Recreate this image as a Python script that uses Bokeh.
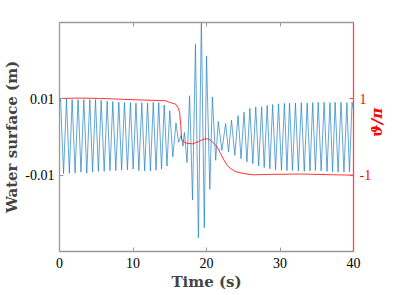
from math import pi
from bokeh.plotting import figure
from bokeh.models import LinearAxis, Range1d, FixedTicker
from bokeh.embed import file_html
from bokeh.resources import INLINE

# ---- data ----
x_ticks = [0, 10, 20, 30, 40]
left_ticks = [-0.01, 0.01]
left_tick_labels = ["-0.01", "0.01"]
right_ticks = [-1, 1]
right_tick_labels = ["-1", "1"]

# water surface: local maxima (time s, value m)
peak_t = [0.14, 0.95, 1.72, 2.53, 3.31, 4.12, 4.90, 5.67, 6.49, 7.25, 8.07, 8.84, 9.65,
          10.40, 11.20, 11.98, 12.76, 13.50, 14.25, 15.00, 15.85, 16.55, 17.00, 17.70,
          18.50, 19.30, 20.00, 20.80, 21.60, 22.60, 23.40, 24.30, 25.10, 25.90, 26.70,
          27.50, 28.26, 29.00, 29.80, 30.60, 31.30, 32.10, 32.90, 33.70, 34.45, 35.20,
          36.00, 36.80, 37.50, 38.30, 39.10, 39.80]
peak_v = [0.0100, 0.0100, 0.0098, 0.0098, 0.0098, 0.0098, 0.0098, 0.0096, 0.0094, 0.0093,
          0.0091, 0.0090, 0.0090, 0.0089, 0.0090, 0.0089, 0.0091, 0.0090, 0.0084, 0.0069,
          0.0037, 0.0004, 0.0012, 0.0108, 0.0243, 0.0310, 0.0212, 0.0105, 0.0041, 0.0035,
          0.0044, 0.0056, 0.0065, 0.0075, 0.0079, 0.0079, 0.0083, 0.0085, 0.0087, 0.0088,
          0.0089, 0.0089, 0.0090, 0.0089, 0.0090, 0.0091, 0.0091, 0.0090, 0.0091, 0.0091,
          0.0090, 0.0091]
# water surface: local minima
trough_t = [0.55, 1.34, 2.12, 2.92, 3.71, 4.50, 5.29, 6.08, 6.87, 7.66, 8.45, 9.24, 10.02,
            10.80, 11.59, 12.37, 13.13, 13.88, 14.62, 15.42, 16.20, 16.80, 17.35, 18.10,
            18.90, 19.70, 20.45, 21.25, 22.10, 23.00, 23.85, 24.70, 25.50, 26.30, 27.10,
            27.85, 28.62, 29.40, 30.20, 30.95, 31.70, 32.50, 33.30, 34.08, 34.82, 35.60,
            36.40, 37.15, 37.90, 38.70, 39.45]
trough_v = [-0.0096, -0.0095, -0.0094, -0.0092, -0.0095, -0.0092, -0.0090, -0.0090, -0.0088,
            -0.0088, -0.0086, -0.0086, -0.0084, -0.0088, -0.0089, -0.0089, -0.0087, -0.0084,
            -0.0076, -0.0052, -0.0014, -0.0024, -0.0067, -0.0165, -0.0264, -0.0238, -0.0137,
            -0.0061, -0.0035, -0.0039, -0.0048, -0.0057, -0.0065, -0.0070, -0.0076, -0.0080,
            -0.0083, -0.0086, -0.0087, -0.0088, -0.0088, -0.0089, -0.0090, -0.0089, -0.0088,
            -0.0089, -0.0090, -0.0091, -0.0092, -0.0092, -0.0091]
edge_t = [0.0, 40.0]
edge_v = [0.0090, 0.0070]

# phase theta/pi
phase_t = [0, 2.7, 5.6, 8.3, 11.0, 13.1, 14.4, 15.1, 15.8, 16.1, 16.35, 16.5, 16.6, 16.9,
           17.3, 18.1, 18.9, 19.7, 20.2, 20.6, 21.1, 21.5, 21.9, 22.3, 22.8, 23.3, 24.0,
           25.1, 26.4, 28.7, 32.8, 37.3, 40.0]
phase_v = [1.01, 1.02, 1.01, 0.99, 0.97, 0.96, 0.95, 0.90, 0.86, 0.78, 0.64, 0.30, -0.04,
           -0.13, -0.16, -0.18, -0.12, -0.05, -0.05, -0.09, -0.19, -0.27, -0.43, -0.58,
           -0.74, -0.83, -0.91, -0.96, -0.99, -0.98, -0.97, -0.99, -1.00]

# merge extrema into one time-ordered series
pts = sorted(list(zip(peak_t, peak_v)) + list(zip(trough_t, trough_v)) + list(zip(edge_t, edge_v)))
wave_t = [a for a, b in pts]
wave_v = [b for a, b in pts]

GRAY = "#9a9a9a"
TICK_FONT = "Liberation Serif"
LABEL_FONT = "DejaVu Serif"

p = figure(width=399, height=295, output_backend="svg", toolbar_location=None,
           x_range=Range1d(0, 40), y_range=Range1d(-0.03, 0.03),
           min_border_left=59, min_border_right=46, min_border_top=22, min_border_bottom=44)
p.extra_y_ranges = {"phase": Range1d(-3, 3)}
p.grid.visible = False
p.outline_line_color = None
p.background_fill_color = "white"

p.line(wave_t, wave_v, line_color="#1f7fc4", line_width=0.7)
p.line(phase_t, phase_v, line_color="#FF0000", line_width=0.8, y_range_name="phase")

def style(ax, color, label_color):
    ax.axis_line_color = color
    ax.axis_line_width = 1.3
    ax.major_tick_line_color = color
    ax.major_tick_in = 4
    ax.major_tick_out = 0
    ax.minor_tick_line_color = None
    ax.major_label_text_font = TICK_FONT
    ax.major_label_text_font_size = "14px"
    ax.major_label_text_color = label_color

xa = p.xaxis[0]
style(xa, GRAY, "black")
xa.ticker = FixedTicker(ticks=x_ticks)
xa.major_label_standoff = 6
xa.axis_label = "Time (s)"
xa.axis_label_text_font = LABEL_FONT
xa.axis_label_text_font_style = "bold"
xa.axis_label_text_font_size = "15px"
xa.axis_label_standoff = 2

ya = p.yaxis[0]
style(ya, GRAY, "black")
ya.ticker = FixedTicker(ticks=left_ticks)
ya.major_label_overrides = {t: s for t, s in zip(left_ticks, left_tick_labels)}
ya.major_label_standoff = 5
ya.axis_label = "Water surface (m)"
ya.axis_label_text_font = LABEL_FONT
ya.axis_label_text_font_style = "bold"
ya.axis_label_text_font_size = "15px"
ya.axis_label_standoff = 1

top = LinearAxis(ticker=FixedTicker(ticks=x_ticks))
style(top, GRAY, "black")
top.major_label_overrides = {t: "" for t in x_ticks}
top.major_label_standoff = 0
p.add_layout(top, "above")

ra = LinearAxis(y_range_name="phase", ticker=FixedTicker(ticks=right_ticks))
style(ra, "#FF4545", "#FF0000")
ra.major_label_overrides = {t: s for t, s in zip(right_ticks, right_tick_labels)}
ra.major_label_standoff = 6
ra.axis_label = "ϑ/π"
ra.axis_label_text_color = "#FF0000"
ra.axis_label_text_font = LABEL_FONT
ra.axis_label_text_font_style = "bold italic"
ra.axis_label_text_font_size = "15px"
ra.axis_label_standoff = 3
try:
    ra.axis_label_orientation = pi / 2
except AttributeError:
    pass
p.add_layout(ra, "right")

open("out.html", "w").write(file_html(p, INLINE))
